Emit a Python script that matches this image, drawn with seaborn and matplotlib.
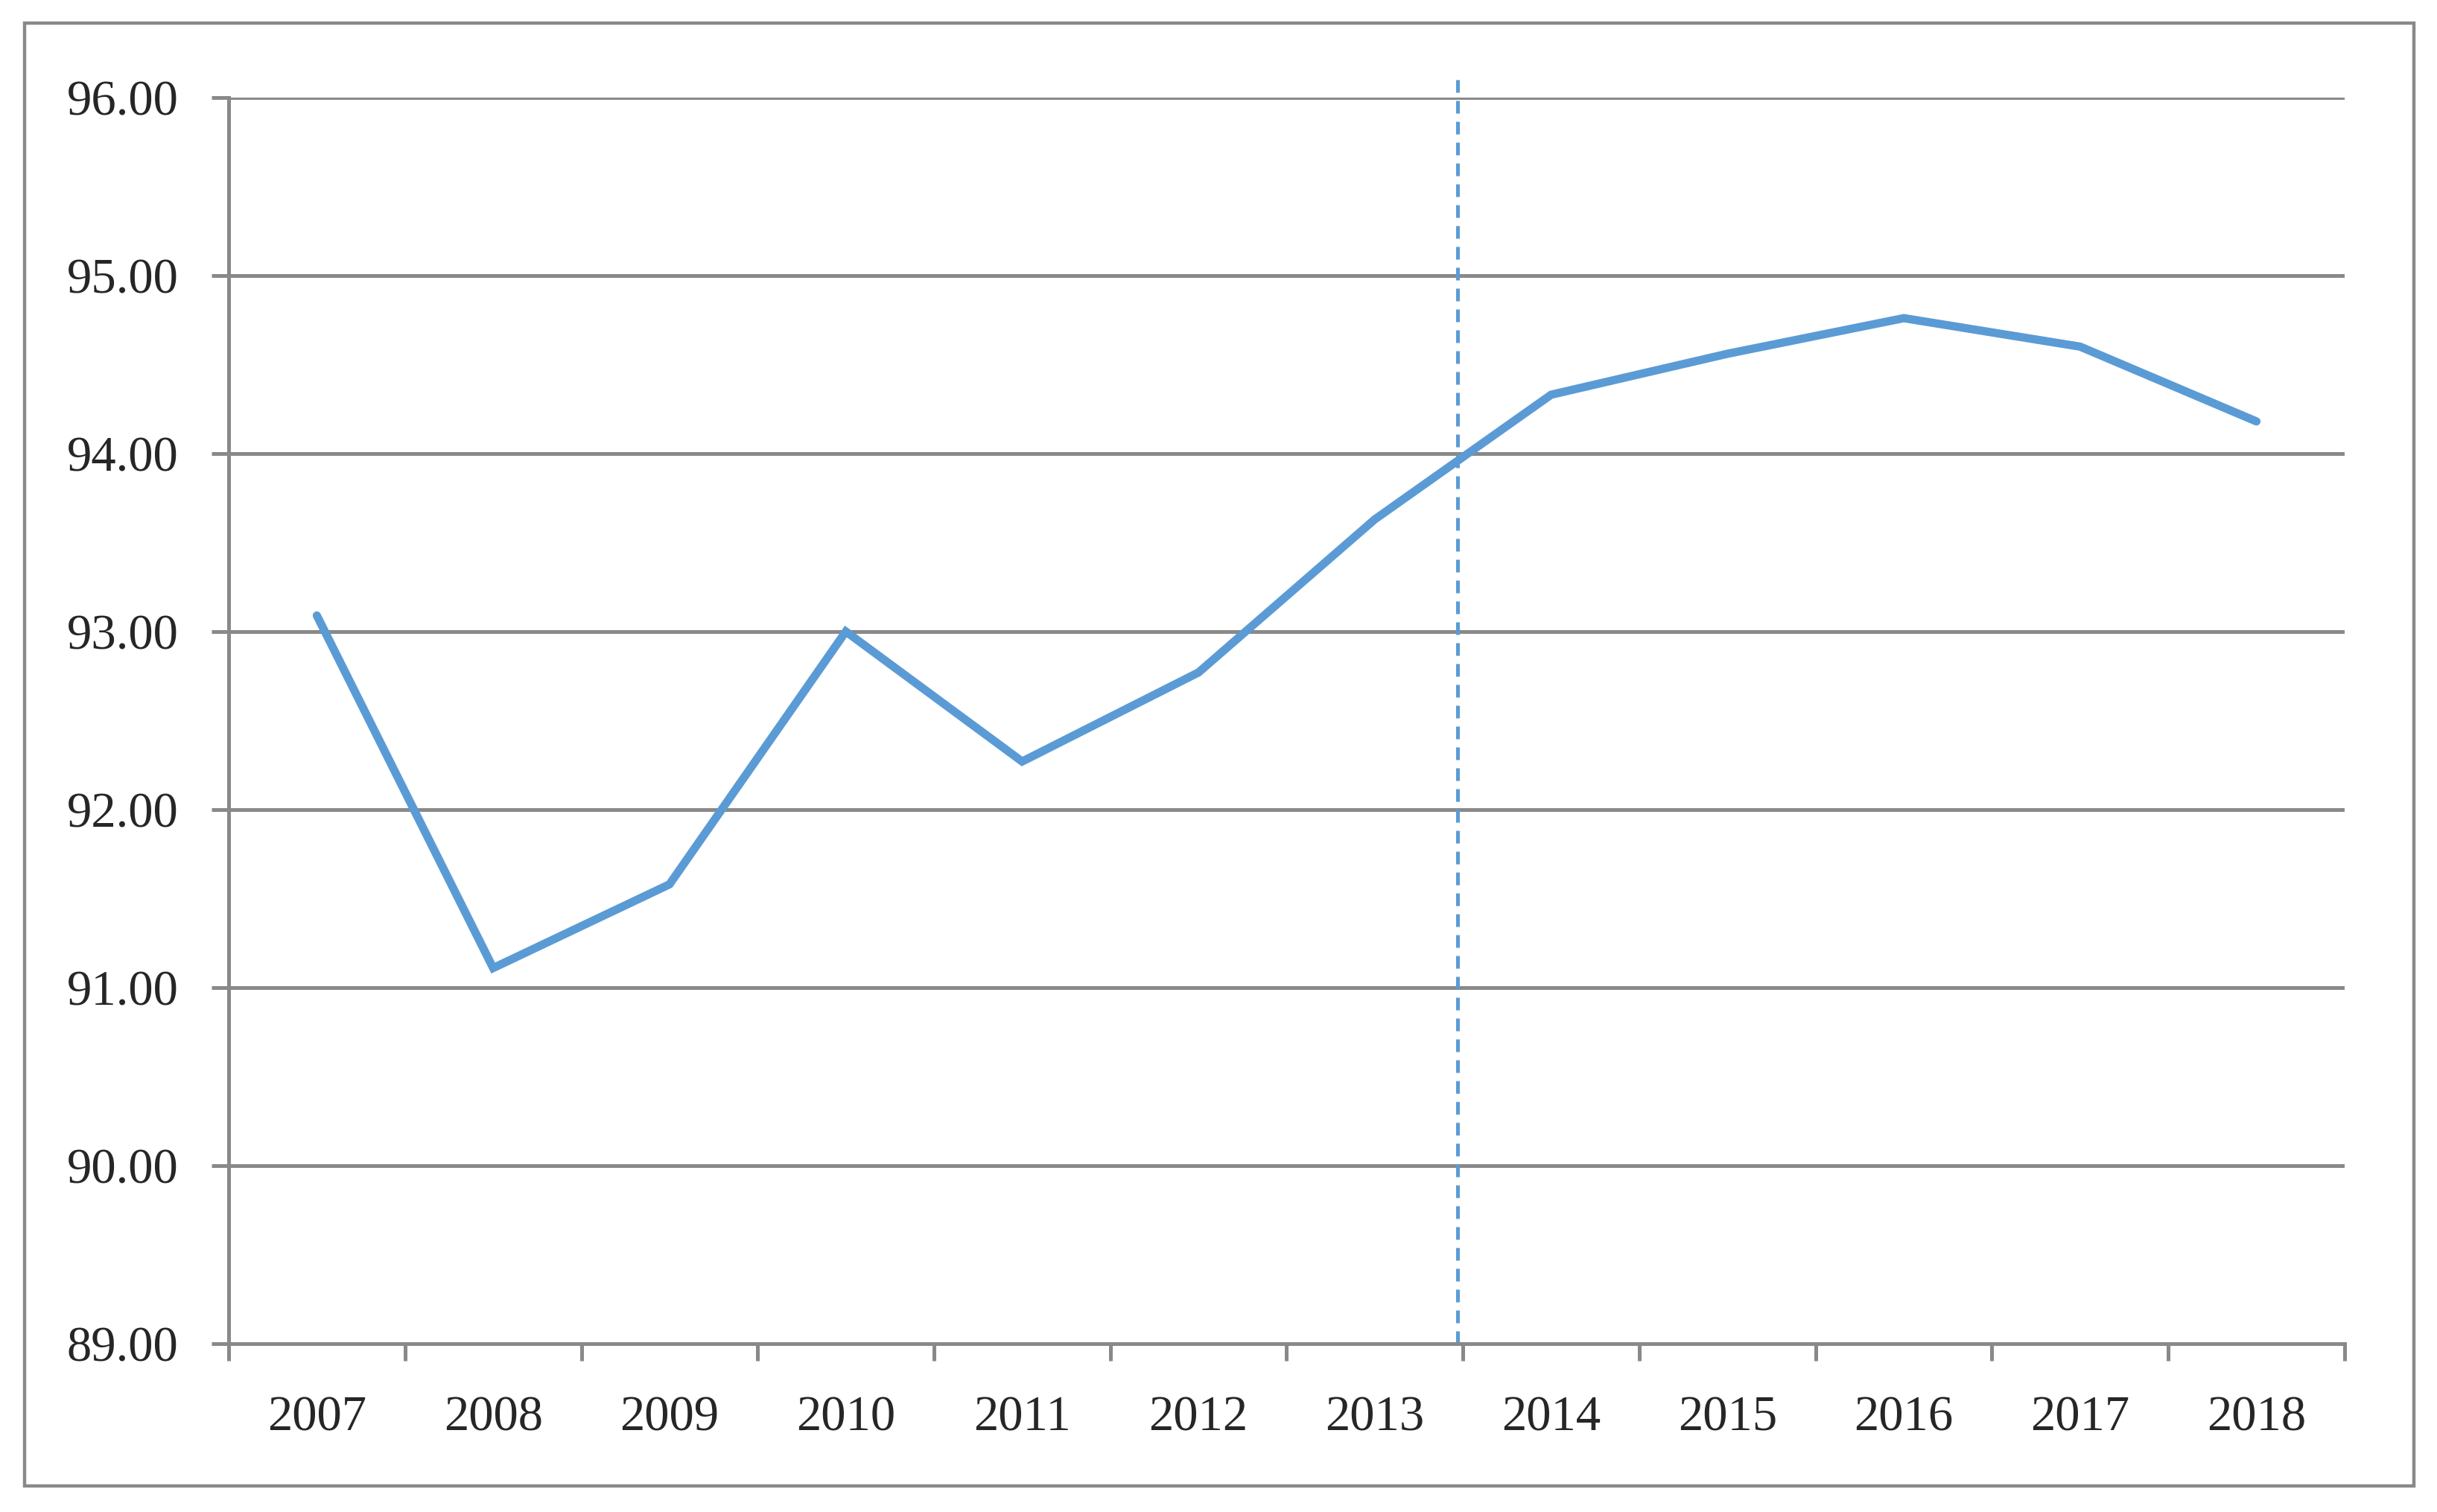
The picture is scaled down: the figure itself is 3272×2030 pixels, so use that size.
import matplotlib
matplotlib.use("Agg")
import matplotlib.pyplot as plt
import matplotlib.patches as mpatches
import seaborn as sns
import numpy as np

# Data
years = ['2007', '2008', '2009', '2010', '2011', '2012',
         '2013', '2014', '2015', '2016', '2017', '2018']
values = [93.09, 91.11, 91.58, 93.00, 92.27, 92.77,
          93.63, 94.33, 94.56, 94.76, 94.60, 94.18]
y_ticks = [89, 90, 91, 92, 93, 94, 95, 96]
break_pos = 6.47  # dashed marker between 2013 and 2014

line_color = '#5B9BD5'
grid_color = '#898989'

sns.set_style('white')
plt.rcParams['font.family'] = ['Liberation Serif', 'DejaVu Serif']

fig = plt.figure(figsize=(32.73, 20.30), dpi=100)
ax = fig.add_axes([0.0938, 0.1113, 0.8680, 0.8243])

x = np.arange(len(years))
sns.lineplot(x=x, y=values, ax=ax, color=line_color, linewidth=8.0,
             solid_capstyle='round', solid_joinstyle='miter', zorder=3)

# vertical dashed line
ax.plot([break_pos, break_pos], [89, 96.1], color=line_color, linewidth=3.6,
        linestyle=(0, (3.4, 2.2)), clip_on=False, zorder=2)

ax.set_xlim(-0.5, len(years) - 0.5)
ax.set_ylim(89, 96)

# y axis
ax.set_yticks(y_ticks)
ax.set_yticklabels([f'{v:.2f}' for v in y_ticks])
ax.yaxis.grid(True, color=grid_color, linewidth=3.6)
ax.xaxis.grid(False)
ax.set_axisbelow(True)

# x axis: tick marks at category boundaries, labels at centres
ax.set_xticks(np.arange(-0.5, len(years), 1.0))
ax.set_xticklabels([])
ax.set_xticks(x, minor=True)
ax.set_xticklabels(years, minor=True)

ax.tick_params(axis='y', which='major', length=16.5, width=3.6, color=grid_color,
               labelsize=48, pad=32, left=True)
ax.tick_params(axis='x', which='major', length=16.5, width=3.6, color=grid_color,
               bottom=True, direction='out')
ax.tick_params(axis='x', which='minor', length=0, labelsize=48, pad=50)

for side in ['top', 'right']:
    ax.spines[side].set_visible(False)
for side in ['left', 'bottom']:
    ax.spines[side].set_color(grid_color)
    ax.spines[side].set_linewidth(3.6)

ax.set_xlabel('')
ax.set_ylabel('')

# outer frame
frame = mpatches.Rectangle((33 / 3273, 1 - 1995 / 2030), (3241 - 33) / 3273,
                           (1995 - 31) / 2030, transform=fig.transFigure,
                           fill=False, edgecolor=grid_color, linewidth=3.2)
fig.patches.append(frame)

fig.savefig('out.png', dpi=100, facecolor='white')
